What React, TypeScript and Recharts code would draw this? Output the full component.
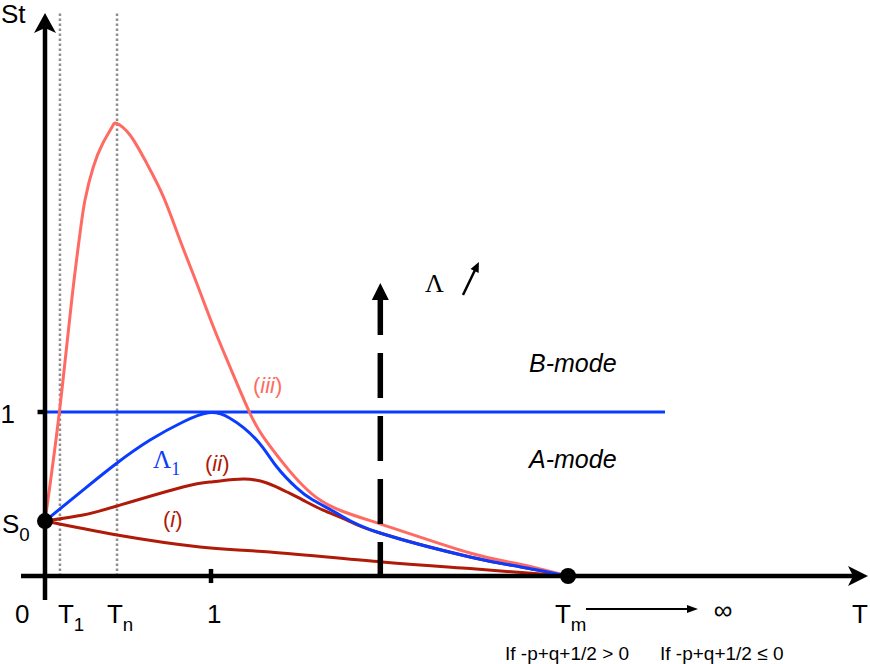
import React from 'react';
import { LineChart, Line, XAxis, YAxis, ReferenceLine, ReferenceDot } from 'recharts';

// Curves: x in units of T, y in units of St
const curveI = [
  { x: 0, y: 0.335 },
  { x: 0.434, y: 0.25 },
  { x: 0.934, y: 0.177 },
  { x: 1.355, y: 0.146 },
  { x: 2.03, y: 0.085 },
  { x: 2.56, y: 0.045 },
  { x: 3.151, y: 0 },
];

const curveII = [
  { x: 0, y: 0.335 },
  { x: 0.229, y: 0.372 },
  { x: 0.434, y: 0.427 },
  { x: 0.831, y: 0.543 },
  { x: 1.012, y: 0.575 },
  { x: 1.193, y: 0.591 },
  { x: 1.337, y: 0.567 },
  { x: 1.458, y: 0.512 },
  { x: 1.554, y: 0.463 },
  { x: 1.675, y: 0.402 },
  { x: 1.819, y: 0.341 },
  { x: 2.018, y: 0.262 },
  { x: 2.56, y: 0.116 },
  { x: 2.861, y: 0.057 },
  { x: 3.151, y: 0 },
];

const curveLambda1 = [
  { x: 0, y: 0.335 },
  { x: 0.229, y: 0.524 },
  { x: 0.434, y: 0.689 },
  { x: 0.633, y: 0.829 },
  { x: 0.831, y: 0.939 },
  { x: 0.984, y: 0.995 },
  { x: 1.114, y: 0.962 },
  { x: 1.275, y: 0.829 },
  { x: 1.396, y: 0.666 },
  { x: 1.516, y: 0.537 },
  { x: 1.614, y: 0.463 },
  { x: 1.777, y: 0.372 },
  { x: 2.018, y: 0.262 },
  { x: 2.56, y: 0.116 },
  { x: 2.861, y: 0.057 },
  { x: 3.151, y: 0 },
];

const curveIII = [
  { x: 0, y: 0.335 },
  { x: 0.086, y: 0.994 },
  { x: 0.161, y: 1.683 },
  { x: 0.211, y: 2.091 },
  { x: 0.241, y: 2.293 },
  { x: 0.291, y: 2.494 },
  { x: 0.349, y: 2.64 },
  { x: 0.404, y: 2.738 },
  { x: 0.432, y: 2.76 },
  { x: 0.512, y: 2.689 },
  { x: 0.613, y: 2.516 },
  { x: 0.713, y: 2.313 },
  { x: 0.813, y: 2.049 },
  { x: 0.914, y: 1.785 },
  { x: 1.014, y: 1.52 },
  { x: 1.114, y: 1.276 },
  { x: 1.235, y: 0.992 },
  { x: 1.315, y: 0.849 },
  { x: 1.436, y: 0.687 },
  { x: 1.657, y: 0.463 },
  { x: 2.018, y: 0.318 },
  { x: 2.56, y: 0.14 },
  { x: 2.861, y: 0.072 },
  { x: 3.151, y: 0 },
];

const S0 = 0.335;
const T1 = 0.09;
const TN = 0.434;
const TM = 3.151;
const INF_X = 4.084;
const B_LINE_END = 3.735;
const LAMBDA_X = 2.02;
const LAMBDA_TOP = 1.787;

// bottom tick labels
const xTickLabels = [
  { x: -0.181, main: '0', sub: '' },
  { x: 0.078, main: 'T', sub: '1' },
  { x: 0.373, main: 'T', sub: 'n' },
  { x: 0.976, main: '1', sub: '' },
  { x: 3.072, main: 'T', sub: 'm' },
  { x: 4.861, main: 'T', sub: '' },
];

const conditions = [
  { x: 2.771, text: 'If -p+q+1/2 > 0' },
  { x: 3.705, text: 'If -p+q+1/2 \u2264 0' },
];

const X_MIN = -0.2711;
const X_MAX = 4.97;
const Y_MIN = -0.5366;
const Y_MAX = 3.5122;

const SALMON = '#ff6b63';
const BLUE = '#0a3cff';
const DARK_RED = '#b01a08';
const SANS = '"Liberation Sans", Arial, sans-serif';
const SERIF = '"Liberation Serif", "Times New Roman", serif';

type ArrowOpts = {
  color: string;
  width: number;
  head?: number;
  headW?: number;
  notch?: number;
  dash?: string;
  dashOffset?: number;
};

const arrow = (o: ArrowOpts) => (p: any) => {
  const { x1, y1, x2, y2 } = p;
  const head = o.head || 0;
  const dx = x2 - x1;
  const dy = y2 - y1;
  const len = Math.hypot(dx, dy) || 1;
  const ux = dx / len;
  const uy = dy / len;
  const bx = x2 - ux * head;
  const by = y2 - uy * head;
  const nx = -uy;
  const ny = ux;
  const hw = (o.headW || 0) / 2;
  const notch = o.notch || 0;
  return (
    <g>
      <line
        x1={x1}
        y1={y1}
        x2={head ? bx + ux * (notch + 1) : x2}
        y2={head ? by + uy * (notch + 1) : y2}
        stroke={o.color}
        strokeWidth={o.width}
        strokeDasharray={o.dash}
        strokeDashoffset={o.dashOffset}
      />
      {head > 0 && (
        <polygon
          points={`${x2},${y2} ${bx + nx * hw},${by + ny * hw} ${bx + ux * notch},${by + uy * notch} ${bx - nx * hw},${by - ny * hw}`}
          fill={o.color}
        />
      )}
    </g>
  );
};

type TextOpts = {
  size: number;
  color?: string;
  family?: string;
  anchor?: 'start' | 'middle' | 'end';
};

const label = (parts: { t: string; sub?: boolean; italic?: boolean }[], o: TextOpts) => (p: any) => (
  <text
    x={p.cx}
    y={p.cy}
    fontSize={o.size}
    fill={o.color || '#000'}
    fontFamily={o.family || SANS}
    textAnchor={o.anchor || 'start'}
  >
    {parts.map((part, i) => (
      <tspan
        key={i}
        fontStyle={part.italic ? 'italic' : 'normal'}
        fontSize={part.sub ? o.size * 0.72 : o.size}
        dy={part.sub ? o.size * 0.3 : i > 0 && parts[i - 1].sub ? -o.size * 0.3 : 0}
      >
        {part.t}
      </tspan>
    ))}
  </text>
);

const blackDot = (p: any) => <circle cx={p.cx} cy={p.cy} r={8} fill="#000" />;

const curveProps = {
  dataKey: 'y',
  type: 'natural' as const,
  strokeWidth: 3,
  dot: false,
  activeDot: false,
  isAnimationActive: false,
};

const App = () => {
  return (
    <div style={{ position: 'absolute', left: 0, top: 0, width: 870, height: 664, background: '#fff' }}>
      <LineChart width={870} height={664} margin={{ top: 0, right: 0, bottom: 0, left: 0 }}>
        <XAxis type="number" dataKey="x" domain={[X_MIN, X_MAX]} hide allowDataOverflow />
        <YAxis type="number" dataKey="y" domain={[Y_MIN, Y_MAX]} hide allowDataOverflow />

        {/* guide lines at T1 and Tn */}
        <ReferenceLine
          segment={[{ x: T1, y: 0 }, { x: T1, y: 3.433 }]}
          stroke="#8f8f8f"
          strokeWidth={2.5}
          strokeDasharray="2.5 2.5"
        />
        <ReferenceLine
          segment={[{ x: TN, y: 0 }, { x: TN, y: 3.433 }]}
          stroke="#8f8f8f"
          strokeWidth={2.5}
          strokeDasharray="2.5 2.5"
        />

        {/* St = 1 boundary */}
        <ReferenceLine segment={[{ x: 0, y: 1 }, { x: B_LINE_END, y: 1 }]} stroke={BLUE} strokeWidth={3} />

        <Line data={curveI} stroke={DARK_RED} {...curveProps} />
        <Line data={curveII} stroke={DARK_RED} {...curveProps} />
        <Line data={curveIII} stroke={SALMON} {...curveProps} />
        <Line data={curveLambda1} stroke={BLUE} {...curveProps} />

        {/* axes */}
        <ReferenceLine
          segment={[{ x: -0.1446, y: 0 }, { x: 4.958, y: 0 }]}
          shape={arrow({ color: '#000', width: 4.5, head: 20, headW: 20, notch: 5 })}
        />
        <ReferenceLine
          segment={[{ x: 0, y: -0.146 }, { x: 0, y: 3.433 }]}
          shape={arrow({ color: '#000', width: 4.5, head: 20, headW: 22, notch: 5 })}
        />
        <ReferenceLine segment={[{ x: 1, y: -0.043 }, { x: 1, y: 0.043 }]} stroke="#000" strokeWidth={4.5} />
        <ReferenceLine segment={[{ x: -0.045, y: 1 }, { x: 0, y: 1 }]} stroke="#000" strokeWidth={4.5} />

        {/* increasing Lambda */}
        <ReferenceLine
          segment={[{ x: LAMBDA_X, y: 0 }, { x: LAMBDA_X, y: LAMBDA_TOP }]}
          shape={arrow({ color: '#000', width: 5.5, head: 17, headW: 17, dash: '45 18', dashOffset: 11 })}
        />
        <ReferenceLine
          segment={[{ x: 2.518, y: 1.713 }, { x: 2.614, y: 1.915 }]}
          shape={arrow({ color: '#000', width: 2.5, head: 10, headW: 9 })}
        />
        <ReferenceLine
          segment={[{ x: 3.259, y: -0.201 }, { x: 3.934, y: -0.201 }]}
          shape={arrow({ color: '#000', width: 2, head: 11, headW: 8 })}
        />

        {/* axis titles and labels */}
        <ReferenceDot x={-0.265} y={3.372} r={0} shape={label([{ t: 'St' }], { size: 26 })} />
        <ReferenceDot x={-0.181} y={0.933} r={0} shape={label([{ t: '1' }], { size: 26, anchor: 'end' })} />
        <ReferenceDot x={-0.259} y={0.262} r={0} shape={label([{ t: 'S' }, { t: '0', sub: true }], { size: 26 })} />
        {xTickLabels.map((l) => (
          <ReferenceDot
            key={l.main + l.sub + l.x}
            x={l.x}
            y={-0.287}
            r={0}
            shape={label(l.sub ? [{ t: l.main }, { t: l.sub, sub: true }] : [{ t: l.main }], { size: 26 })}
          />
        ))}
        <ReferenceDot x={INF_X} y={-0.26} r={0} shape={label([{ t: '\u221e' }], { size: 26, anchor: 'middle' })} />
        {conditions.map((c) => (
          <ReferenceDot key={c.text} x={c.x} y={-0.512} r={0} shape={label([{ t: c.text }], { size: 19 })} />
        ))}

        <ReferenceDot x={2.289} y={1.732} r={0} shape={label([{ t: '\u039b' }], { size: 26, family: SERIF })} />
        <ReferenceDot x={2.916} y={1.244} r={0} shape={label([{ t: 'B-mode', italic: true }], { size: 25 })} />
        <ReferenceDot x={2.916} y={0.659} r={0} shape={label([{ t: 'A-mode', italic: true }], { size: 25 })} />

        <ReferenceDot
          x={0.651}
          y={0.659}
          r={0}
          shape={label([{ t: '\u039b' }, { t: '1', sub: true }], { size: 25, family: SERIF, color: BLUE })}
        />
        <ReferenceDot
          x={0.964}
          y={0.64}
          r={0}
          shape={label([{ t: '(' }, { t: 'ii', italic: true }, { t: ')' }], { size: 22, color: DARK_RED })}
        />
        <ReferenceDot
          x={0.711}
          y={0.299}
          r={0}
          shape={label([{ t: '(' }, { t: 'i', italic: true }, { t: ')' }], { size: 22, color: DARK_RED })}
        />
        <ReferenceDot
          x={1.253}
          y={1.116}
          r={0}
          shape={label([{ t: '(' }, { t: 'iii', italic: true }, { t: ')' }], { size: 22, color: SALMON })}
        />

        {/* S0 start point and Tm end point */}
        <ReferenceDot x={0} y={S0} r={8} shape={blackDot} />
        <ReferenceDot x={TM} y={0} r={8} shape={blackDot} />
      </LineChart>
    </div>
  );
};

export default App;
